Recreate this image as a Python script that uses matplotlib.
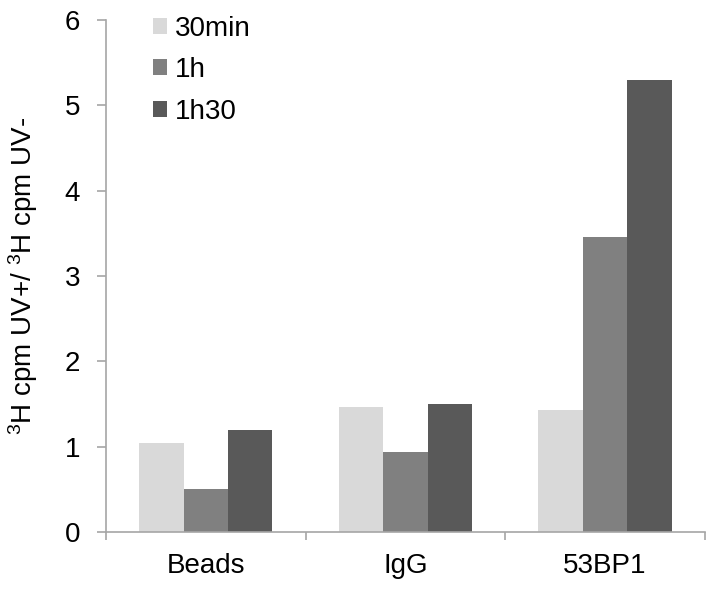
import matplotlib
matplotlib.use("Agg")
import matplotlib.pyplot as plt
import numpy as np

categories = ["Beads", "IgG", "53BP1"]
series_names = ["30min", "1h", "1h30"]
v_30min = [1.04, 1.47, 1.43]
v_1h = [0.50, 0.94, 3.46]
v_1h30 = [1.20, 1.50, 5.30]
colors = ["#d9d9d9", "#808080", "#595959"]

plt.rcParams['font.family'] = ['Liberation Sans', 'DejaVu Sans']
plt.rcParams['mathtext.fontset'] = 'custom'
plt.rcParams['mathtext.rm'] = 'Liberation Sans'
plt.rcParams['mathtext.it'] = 'Liberation Sans'

FS = 20
fig = plt.figure(figsize=(7.14, 5.93), dpi=100)
ax = fig.add_axes([0.1485, 0.1029, 0.8385, 0.8631])

x = np.arange(len(categories))
w = 0.2225
for i, (vals, name, c) in enumerate(zip([v_30min, v_1h, v_1h30], series_names, colors)):
    ax.bar(x + (i - 1) * w, vals, width=w, color=c, label=name, linewidth=0)

ax.set_xlim(-0.5, 2.5)
ax.set_ylim(0, 6)
ax.set_yticks(range(0, 7))
ax.set_xticks(x)
ax.set_xticklabels(categories)
ax.set_xticks([-0.5, 0.5, 1.5, 2.5], minor=True)
ax.tick_params(axis='x', which='major', length=0, pad=15, labelsize=FS)
ax.tick_params(axis='x', which='minor', length=6, color='#a6a6a6', width=1.2, direction='out')
ax.tick_params(axis='y', length=6.5, color='#a6a6a6', width=1.2, direction='out', labelsize=FS, pad=12)

for s in ['top', 'right']:
    ax.spines[s].set_visible(False)
for s in ['left', 'bottom']:
    ax.spines[s].set_color('#a6a6a6')
    ax.spines[s].set_linewidth(1.2)

ax.set_ylabel(r"$^{3}$H cpm UV+/ $^{3}$H cpm UV-", fontsize=FS, labelpad=18)

leg = ax.legend(loc='upper left', bbox_to_anchor=(0.0785, 1.009), frameon=False, fontsize=FS,
                borderpad=0, borderaxespad=0,
                handlelength=0.5, handleheight=0.5, handletextpad=0.28, labelspacing=0.56)

fig.savefig("out.png", dpi=100)
